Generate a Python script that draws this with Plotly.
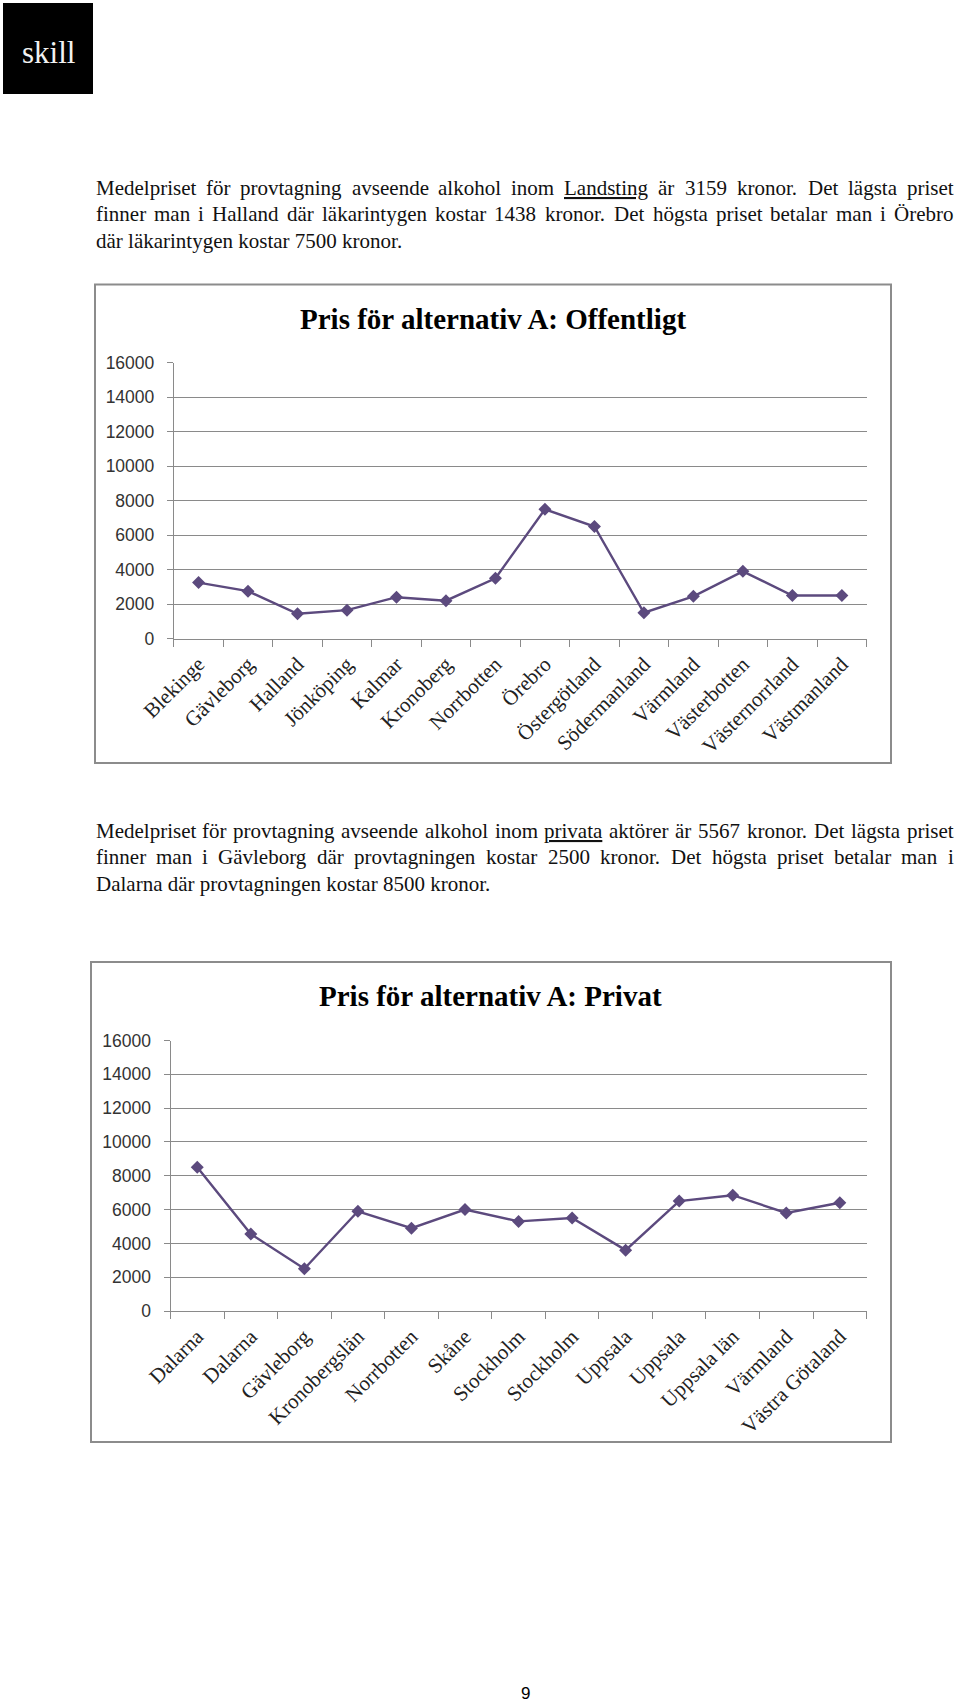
import plotly.graph_objects as go

W, H = 960, 1702

# ---------------- data ----------------
cat_off = ["Blekinge", "Gävleborg", "Halland", "Jönköping", "Kalmar", "Kronoberg",
           "Norrbotten", "Örebro", "Östergötland", "Södermanland", "Värmland",
           "Västerbotten", "Västernorrland", "Västmanland"]
val_off = [3250, 2750, 1438, 1650, 2400, 2200, 3500, 7500, 6500, 1500, 2450, 3900, 2500, 2500]

cat_priv = ["Dalarna", "Dalarna", "Gävleborg", "Kronobergslän", "Norrbotten", "Skåne",
            "Stockholm", "Stockholm", "Uppsala", "Uppsala", "Uppsala län", "Värmland",
            "Västra Götaland"]
val_priv = [8500, 4550, 2500, 5900, 4900, 6000, 5300, 5500, 3600, 6500, 6850, 5800, 6400]

y_ticks = [0, 2000, 4000, 6000, 8000, 10000, 12000, 14000, 16000]

title_off = "Pris för alternativ A: Offentligt"
title_priv = "Pris för alternativ A: Privat"

para1 = [
    ("Medelpriset för provtagning avseende alkohol inom _Landsting_ är 3159 kronor. Det lägsta priset", True),
    ("finner man i Halland där läkarintygen kostar 1438 kronor. Det högsta priset betalar man i Örebro", True),
    ("där läkarintygen kostar 7500 kronor.", False),
]
para2 = [
    ("Medelpriset för provtagning avseende alkohol inom _privata_ aktörer är 5567 kronor. Det lägsta priset", True),
    ("finner man i Gävleborg där provtagningen kostar 2500 kronor. Det högsta priset betalar man i", True),
    ("Dalarna där provtagningen kostar 8500 kronor.", False),
]

# ---------------- styling ----------------
PURPLE = "#5C4A7E"
GRID = "#8A8A8A"
FRAME = "#8C8C8C"
SERIF = "Liberation Serif"
SANS = "Liberation Sans"
BODY_SIZE = 21

# Times / Liberation Serif advance widths (per 1000 em) for justification
TW = {' ': 250, 'a': 444, 'b': 500, 'c': 444, 'd': 500, 'e': 444, 'f': 333, 'g': 500, 'h': 500,
      'i': 278, 'j': 278, 'k': 500, 'l': 278, 'm': 778, 'n': 500, 'o': 500, 'p': 500, 'q': 500,
      'r': 333, 's': 389, 't': 278, 'u': 500, 'v': 500, 'w': 722, 'x': 500, 'y': 500, 'z': 444,
      'ä': 444, 'å': 444, 'ö': 500, 'A': 722, 'B': 667, 'C': 667, 'D': 722, 'E': 611, 'F': 556,
      'G': 722, 'H': 722, 'I': 333, 'J': 389, 'K': 722, 'L': 611, 'M': 889, 'N': 722, 'O': 722,
      'P': 556, 'Q': 722, 'R': 667, 'S': 556, 'T': 611, 'U': 722, 'V': 722, 'W': 944, 'X': 722,
      'Y': 722, 'Z': 611, 'Ö': 722, 'Ä': 722, 'Å': 722, '.': 250, ',': 250, ':': 278}
for d in "0123456789":
    TW[d] = 500


def tw(s, size):
    return sum(TW.get(ch, 500) for ch in s) / 1000.0 * size


def px(x):
    return x / W


def py(y):
    return 1 - y / H


annotations = []
shapes = []


def body_ann(txt, x, yc):
    return dict(text=txt, x=px(x), y=py(yc), xref="paper", yref="paper",
                xanchor="left", yanchor="middle", showarrow=False, borderpad=0,
                font=dict(family=SERIF, size=BODY_SIZE, color="#111111"))


def add_para(lines, y0, dy, x0=94.5, x1=952.5):
    for k, (line, justify) in enumerate(lines):
        yc = y0 + k * dy
        if not justify:
            annotations.append(body_ann(line, x0, yc))
            continue
        words = line.split(" ")
        plain = [w.strip("_") for w in words]
        widths = [tw(w, BODY_SIZE) for w in plain]
        gap = (x1 - x0 - sum(widths)) / (len(words) - 1)
        x = x0
        for w, p, wd in zip(words, plain, widths):
            txt = p
            if w.startswith("_"):
                txt = "<span style='text-decoration:underline'>" + p + "</span>"
            annotations.append(body_ann(txt, x, yc))
            x += wd + gap


add_para(para1, 187.5, 26.6)
add_para(para2, 830.5, 26.6)

# logo
shapes.append(dict(type="rect", xref="paper", yref="paper",
                   x0=px(3), x1=px(93), y0=py(94), y1=py(3),
                   fillcolor="#000000", line=dict(width=0), layer="below"))
annotations.append(dict(text="skill", x=px(48), y=py(53), xref="paper", yref="paper",
                        xanchor="center", yanchor="middle", showarrow=False,
                        font=dict(family=SERIF, size=31, color="#F2F2F2")))

# chart frames
shapes.append(dict(type="rect", xref="paper", yref="paper",
                   x0=px(95), x1=px(891), y0=py(763), y1=py(284.5),
                   line=dict(color=FRAME, width=2), layer="below"))
shapes.append(dict(type="rect", xref="paper", yref="paper",
                   x0=px(91), x1=px(891), y0=py(1442), y1=py(962),
                   line=dict(color=FRAME, width=2), layer="below"))

# chart titles
annotations.append(dict(text=title_off, x=px(492.5), y=py(319), xref="paper", yref="paper",
                        xanchor="center", yanchor="middle", showarrow=False,
                        font=dict(family=SERIF, size=29, color="#000000", weight="bold")))
annotations.append(dict(text=title_priv, x=px(490.5), y=py(996), xref="paper", yref="paper",
                        xanchor="center", yanchor="middle", showarrow=False,
                        font=dict(family=SERIF, size=29, color="#000000", weight="bold")))

# page number
annotations.append(dict(text="9", x=px(525), y=py(1693), xref="paper", yref="paper",
                        xanchor="center", yanchor="middle", showarrow=False,
                        font=dict(family=SANS, size=17, color="#000000")))

fig = go.Figure()
fig.add_trace(go.Scatter(x=list(range(len(cat_off))), y=val_off, mode="lines+markers",
                         xaxis="x", yaxis="y",
                         line=dict(color=PURPLE, width=2.4),
                         marker=dict(symbol="diamond", size=10, color=PURPLE),
                         showlegend=False, hoverinfo="skip"))
fig.add_trace(go.Scatter(x=list(range(len(cat_priv))), y=val_priv, mode="lines+markers",
                         xaxis="x2", yaxis="y2",
                         line=dict(color=PURPLE, width=2.4),
                         marker=dict(symbol="diamond", size=10, color=PURPLE),
                         showlegend=False, hoverinfo="skip"))


def xaxis_cfg(cats, dom, anchor):
    n = len(cats)
    return dict(domain=dom, anchor=anchor, range=[-0.5, n - 0.5], automargin=False,
                tickmode="array", tickvals=list(range(n)), ticktext=cats,
                tickangle=-45, ticks="", showgrid=False, zeroline=False,
                showline=True, linecolor=GRID, linewidth=1,
                ticklabelstandoff=4,
                tickfont=dict(family=SERIF, size=21, color="#222222"),
                minor=dict(tick0=-0.5, dtick=1, ticks="outside", ticklen=7,
                           tickcolor=GRID, tickwidth=1, showgrid=False),
                fixedrange=True)


def yaxis_cfg(dom, anchor):
    return dict(domain=dom, anchor=anchor, range=[0, 16000], automargin=False,
                tickmode="array", tickvals=y_ticks,
                ticktext=[str(v) for v in y_ticks],
                showgrid=True, gridcolor=GRID, gridwidth=1, zeroline=False,
                showline=True, linecolor=GRID, linewidth=1,
                ticks="outside", ticklen=6, tickcolor=GRID,
                ticklabelstandoff=9,
                tickfont=dict(family=SANS, size=17.5, color="#333333"),
                fixedrange=True)


fig.update_layout(
    width=W, height=H, autosize=False,
    margin=dict(l=0, r=0, t=0, b=0, pad=0),
    paper_bgcolor="#FFFFFF", plot_bgcolor="rgba(0,0,0,0)",
    xaxis=xaxis_cfg(cat_off, [173.8 / W, 866.6 / W], "y"),
    yaxis=yaxis_cfg([py(638.6), py(362.7)], "x"),
    xaxis2=xaxis_cfg(cat_priv, [170.5 / W, 866.6 / W], "y2"),
    yaxis2=yaxis_cfg([py(1311), py(1040.5)], "x2"),
    annotations=annotations,
    shapes=shapes,
)

fig.write_html("out.html", config={"displayModeBar": False},
               post_script="document.body.style.margin='0px';")
